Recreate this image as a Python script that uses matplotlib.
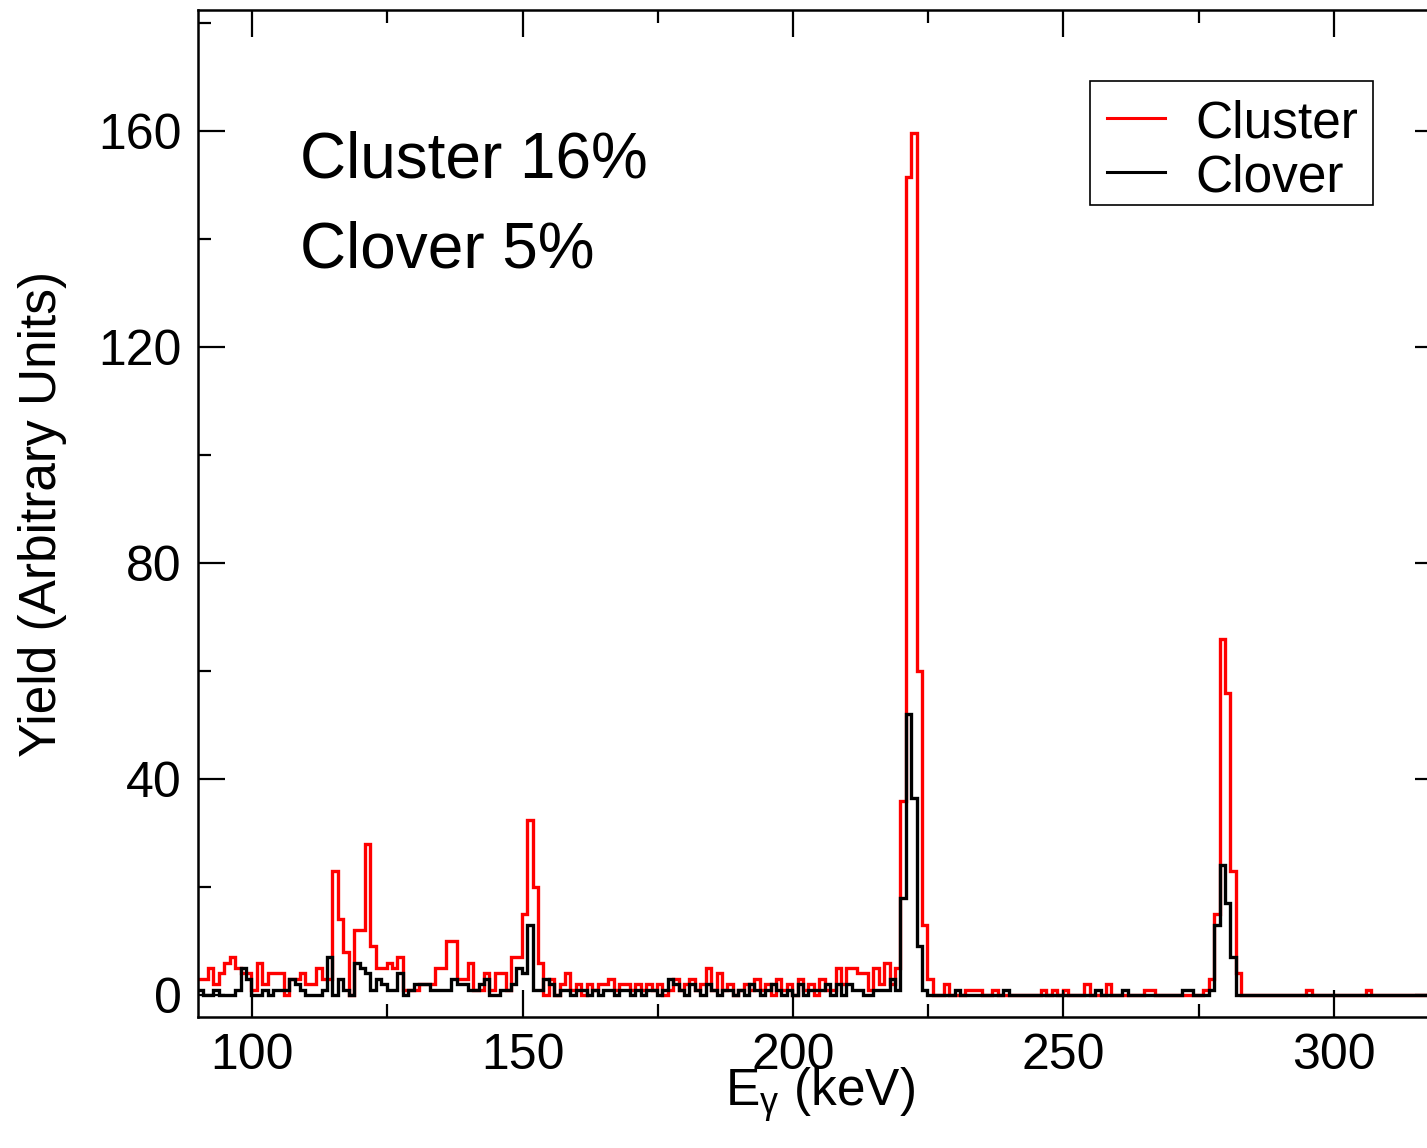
import numpy as np
import matplotlib
matplotlib.use("Agg")
import matplotlib.pyplot as plt
from matplotlib.lines import Line2D
from matplotlib.patches import Rectangle
from matplotlib.ticker import MultipleLocator

plt.rcParams['font.family'] = ['Liberation Sans', 'DejaVu Sans']
plt.rcParams['mathtext.fontset'] = 'custom'
plt.rcParams['mathtext.rm'] = 'Liberation Sans'
plt.rcParams['mathtext.it'] = 'Liberation Sans:italic'

# gamma energy bins (keV), 1 keV wide
energy = np.arange(90, 320)

cluster = [3, 3, 5, 2, 4, 6, 7, 5, 4, 4,
           1, 6, 2, 4, 4, 4, 0, 3, 3, 4,
           2, 2, 5, 3, 3, 23, 14, 8, 0, 12,
           12, 28, 9, 5, 5, 6, 5, 7, 1, 1,
           1, 2, 2, 2, 5, 5, 10, 10, 3, 3,
           6, 1, 1, 4, 1, 4, 4, 1, 7, 7,
           15, 32.5, 20, 6, 0, 3, 0, 2, 4, 1,
           2, 0, 2, 1, 2, 2, 3, 1, 2, 2,
           1, 2, 1, 2, 1, 2, 0, 1, 3, 1,
           2, 3, 1, 2, 5, 1, 4, 1, 2, 0,
           1, 2, 1, 3, 1, 2, 0, 3, 1, 2,
           0, 3, 1, 2, 0, 3, 1, 1, 5, 2,
           5, 5, 4, 4, 1, 5, 2, 6, 2, 5,
           36, 151.5, 159.6, 60, 13, 3, 0, 0, 2, 0,
           0, 0, 1, 1, 1, 0, 0, 1, 0, 0,
           0, 0, 0, 0, 0, 0, 1, 0, 1, 0,
           1, 0, 0, 0, 2, 0, 0, 0, 2, 0,
           0, 0, 0, 0, 0, 1, 1, 0, 0, 0,
           0, 0, 0, 0, 0, 0, 1, 3, 15, 66,
           56, 23, 4, 0, 0, 0, 0, 0, 0, 0,
           0, 0, 0, 0, 0, 1, 0, 0, 0, 0,
           0, 0, 0, 0, 0, 0, 1, 0, 0, 0,
           0, 0, 0, 0, 0, 0, 0, 0, 0, 0]

clover = [1, 0, 0, 1, 0, 0, 0, 1, 5, 3,
          0, 0, 1, 0, 1, 1, 1, 3, 2, 1,
          0, 0, 0, 1, 7, 0, 3, 1, 0, 6,
          5, 4, 1, 3, 2, 1, 1, 4, 0, 1,
          2, 2, 2, 1, 1, 1, 1, 3, 2, 2,
          1, 1, 2, 3, 0, 0, 1, 1, 2, 5,
          4, 13, 1, 1, 3, 2, 0, 1, 1, 0,
          1, 1, 0, 1, 0, 1, 1, 0, 1, 1,
          0, 1, 0, 1, 1, 0, 1, 3, 2, 1,
          0, 2, 1, 0, 2, 1, 0, 1, 1, 0,
          1, 0, 2, 1, 0, 1, 2, 1, 0, 1,
          0, 2, 0, 1, 1, 1, 2, 0, 2, 0,
          2, 1, 1, 0, 0, 1, 1, 1, 3, 1,
          18, 52, 36.5, 9, 1, 0, 0, 0, 0, 0,
          1, 0, 0, 0, 0, 0, 0, 0, 0, 1,
          0, 0, 0, 0, 0, 0, 0, 0, 0, 0,
          0, 0, 0, 0, 0, 0, 1, 0, 0, 0,
          0, 1, 0, 0, 0, 0, 0, 0, 0, 0,
          0, 0, 1, 1, 0, 0, 0, 1, 13, 24,
          17, 7, 0, 0, 0, 0, 0, 0, 0, 0,
          0, 0, 0, 0, 0, 0, 0, 0, 0, 0,
          0, 0, 0, 0, 0, 0, 0, 0, 0, 0,
          0, 0, 0, 0, 0, 0, 0, 0, 0, 0]

labels = ["Cluster", "Clover"]
colors = ["#ff0000", "black"]
efficiency_text = ["Cluster 16%", "Clover 5%"]

edges = np.append(energy, energy[-1] + 1) - 0.15

fig = plt.figure(figsize=(14.27, 11.48), dpi=100)
ax = fig.add_axes([0.1388, 0.1141, 0.8718, 0.8772])

ax.stairs(cluster, edges, baseline=None, color=colors[0], linewidth=2.4)
ax.stairs(clover, edges, baseline=None, color=colors[1], linewidth=2.4)

ax.set_xlim(90, 320)
ax.set_ylim(-4.07, 182.4)

ax.xaxis.set_major_locator(MultipleLocator(50))
ax.xaxis.set_minor_locator(MultipleLocator(25))
ax.yaxis.set_major_locator(MultipleLocator(40))
ax.yaxis.set_minor_locator(MultipleLocator(20))
ax.tick_params(which="both", direction="in", top=True, right=True, width=1.6, labelsize=36)
ax.tick_params(which="major", length=19.5)
ax.tick_params(which="minor", length=9.5)
ax.tick_params(axis="x", pad=11.5)
ax.tick_params(axis="y", pad=12)
for s in ax.spines.values():
    s.set_linewidth(1.8)

ax.set_xlabel(r"E$_{\mathrm{\gamma}}$ (keV)", fontsize=37, labelpad=-10)
ax.set_ylabel("Yield (Arbitrary Units)", fontsize=37, labelpad=22)

ax.text(0.082, 0.834, efficiency_text[0], transform=ax.transAxes, fontsize=46, va="baseline")
ax.text(0.082, 0.744, efficiency_text[1], transform=ax.transAxes, fontsize=46, va="baseline")

# legend box drawn by hand (xmgrace style, tight rows)
ax.add_patch(Rectangle((0.717, 0.8064), 0.2275, 0.1231, transform=ax.transAxes,
                       facecolor="white", edgecolor="black", linewidth=1.2, zorder=5))
for i, (lab, col) in enumerate(zip(labels, colors)):
    yl = 0.8927 - i * 0.0536
    ax.add_line(Line2D([0.7307, 0.7773], [yl, yl], transform=ax.transAxes,
                       color=col, linewidth=2.2, zorder=6))
    ax.text(0.8014, 0.8729 - i * 0.0536, lab, transform=ax.transAxes,
            fontsize=37, va="baseline", zorder=6)

plt.savefig("out.png", dpi=100)
